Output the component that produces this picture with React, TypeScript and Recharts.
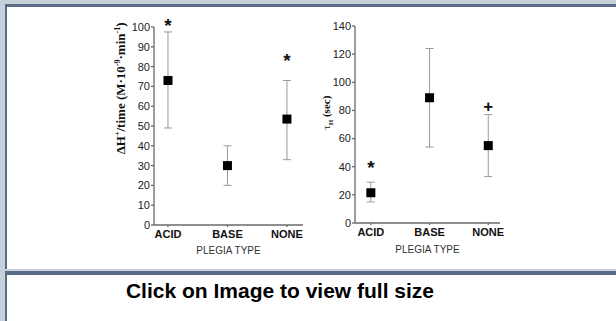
import React from "react";
import { ScatterChart, Scatter, XAxis, YAxis, ErrorBar, ReferenceDot, Label } from "recharts";

const categories = ["ACID", "BASE", "NONE"];

// left panel: proton production rate
const rateMean = [73, 30, 53.5];
const rateLow = [49, 20, 33];
const rateHigh = [97.5, 40, 73];
const rateTicks = [0, 10, 20, 30, 40, 50, 60, 70, 80, 90, 100];
const rateMarkAt = [0, 2];
const rateMarkVal = [102.5, 85];
const rateMarkSym = ["*", "*"];

// right panel: time constant
const tauMean = [21.5, 89, 55];
const tauLow = [15, 54, 33];
const tauHigh = [29, 124, 77];
const tauTicks = [0, 20, 40, 60, 80, 100, 120, 140];
const tauMarkAt = [0, 2];
const tauMarkVal = [42, 83.5];
const tauMarkSym = ["*", "+"];

const SANS = "'Liberation Sans', Arial, sans-serif";
const SERIF = "'Liberation Serif', 'Times New Roman', serif";
const AXIS = "#6a6a6a";

function rows(mean: number[], low: number[], high: number[]) {
  return categories.map((c, i) => ({ x: i, name: c, y: mean[i], err: [mean[i] - low[i], high[i] - mean[i]] }));
}

function Square(p: any) {
  if (p.cx == null || p.cy == null) return null;
  return <rect x={p.cx - 4.5} y={p.cy - 4.5} width={9} height={9} fill="#000" />;
}

function RateLabel(p: any) {
  const vb = p.viewBox;
  const x = vb.x + vb.width - 29;
  const y = vb.y + vb.height * 0.31;
  return (
    <text transform={`translate(${x},${y}) rotate(-90)`} textAnchor="middle" fontFamily={SERIF}
      fontWeight={700} fontSize={13} fill="#111">
      ΔH<tspan fontSize={8} dy={-5}>+</tspan>
      <tspan dy={5}>/time  (M·10</tspan>
      <tspan fontSize={8} dy={-5}>-9</tspan>
      <tspan dy={5}>·min</tspan>
      <tspan fontSize={8} dy={-5}>-1</tspan>
      <tspan dy={5}>)</tspan>
    </text>
  );
}

function TauLabel(p: any) {
  const vb = p.viewBox;
  const x = vb.x + 30;
  const y = vb.y + vb.height * 0.44;
  return (
    <text transform={`translate(${x},${y}) rotate(-90)`} textAnchor="middle" fontFamily={SERIF}
      fontSize={11} fill="#111">
      τ<tspan fontSize={7} fontWeight={700} dy={3}>H</tspan>
      <tspan dy={-3} fontWeight={700}> (sec)</tspan>
    </text>
  );
}

function Panel(props: {
  left: number; width: number; top: number; height: number;
  margin: any; yWidth: number; xHeight: number; xDomain: number[];
  yDomain: number[]; yTicks: number[];
  mean: number[]; low: number[]; high: number[];
  markAt: number[]; markVal: number[]; markSym: string[];
  yLabel: any; xOffset: number;
}) {
  const data = rows(props.mean, props.low, props.high);
  return (
    <div style={{ position: "absolute", left: props.left, top: props.top }}>
      <ScatterChart width={props.width} height={props.height} margin={props.margin}>
        <XAxis type="number" dataKey="x" domain={props.xDomain} ticks={[0, 1, 2]} allowDataOverflow
          tickFormatter={(v: number) => categories[v] ?? ""} height={props.xHeight}
          stroke={AXIS} strokeWidth={1.3} tickSize={2} tickMargin={3}
          tick={{ fontSize: 11, fontWeight: 700, fill: "#111", fontFamily: SANS }}>
          <Label value="PLEGIA TYPE" position="insideBottom" offset={props.xOffset}
            style={{ fontSize: 10, fill: "#333", fontFamily: SANS }} />
        </XAxis>
        <YAxis type="number" dataKey="y" domain={props.yDomain} ticks={props.yTicks} width={props.yWidth}
          stroke={AXIS} strokeWidth={1.3} tickSize={3} tickMargin={1} interval={0}
          tick={{ fontSize: 11, fill: "#222", fontFamily: SANS }}>
          <Label content={props.yLabel} />
        </YAxis>
        <Scatter data={data} shape={<Square />} isAnimationActive={false}>
          <ErrorBar dataKey="err" direction="y" width={4} stroke="#9a9a9a" strokeWidth={1} />
        </Scatter>
        {props.markAt.map((at, i) => (
          <ReferenceDot key={i} x={at} y={props.markVal[i]} ifOverflow="visible"
            shape={(p: any) => (
              <text x={p.cx} y={p.cy + (props.markSym[i] === "*" ? 10 : 6)} textAnchor="middle"
                fontFamily={SANS} fontWeight={700} fontSize={props.markSym[i] === "*" ? 19 : 17} fill="#111">
                {props.markSym[i]}
              </text>
            )} />
        ))}
      </ScatterChart>
    </div>
  );
}

const LIGHT = "#c6d0db";
const DARK = "#5a6d87";

export default function App() {
  const box = (s: any) => <div style={{ position: "absolute", ...s }} />;
  return (
    <div style={{ position: "fixed", left: 0, top: 0, width: 616, height: 321, background: "#fff", overflow: "hidden" }}>
      {box({ left: 0, top: 0, width: 616, height: 4, background: LIGHT })}
      {box({ left: 0, top: 0, width: 5, height: 321, background: LIGHT })}
      {box({ left: 5, top: 4, width: 611, height: 3, background: DARK })}
      {box({ left: 5, top: 4, width: 2, height: 317, background: DARK })}
      {box({ left: 5, top: 269, width: 611, height: 2, background: LIGHT })}
      {box({ left: 5, top: 271, width: 611, height: 4, background: DARK })}

      <Panel left={0} top={0} width={320} height={265}
        margin={{ top: 27, right: 17, bottom: 10, left: 0 }} yWidth={154} xHeight={30}
        xDomain={[-0.235, 2.27]} yDomain={[0, 100]} yTicks={rateTicks}
        mean={rateMean} low={rateLow} high={rateHigh}
        markAt={rateMarkAt} markVal={rateMarkVal} markSym={rateMarkSym}
        yLabel={RateLabel} xOffset={1} />

      <Panel left={300} top={0} width={220} height={265}
        margin={{ top: 26, right: 20, bottom: 10, left: 0 }} yWidth={55} xHeight={32}
        xDomain={[-0.27, 2.2]} yDomain={[0, 140]} yTicks={tauTicks}
        mean={tauMean} low={tauLow} high={tauHigh}
        markAt={tauMarkAt} markVal={tauMarkVal} markSym={tauMarkSym}
        yLabel={TauLabel} xOffset={2} />

      <svg style={{ position: "absolute", left: 0, top: 275 }} width={616} height={46}>
        <text x={280} y={23} textAnchor="middle" fontFamily={SANS} fontWeight={700} fontSize={21} fill="#000">
          Click on Image to view full size
        </text>
      </svg>
    </div>
  );
}
